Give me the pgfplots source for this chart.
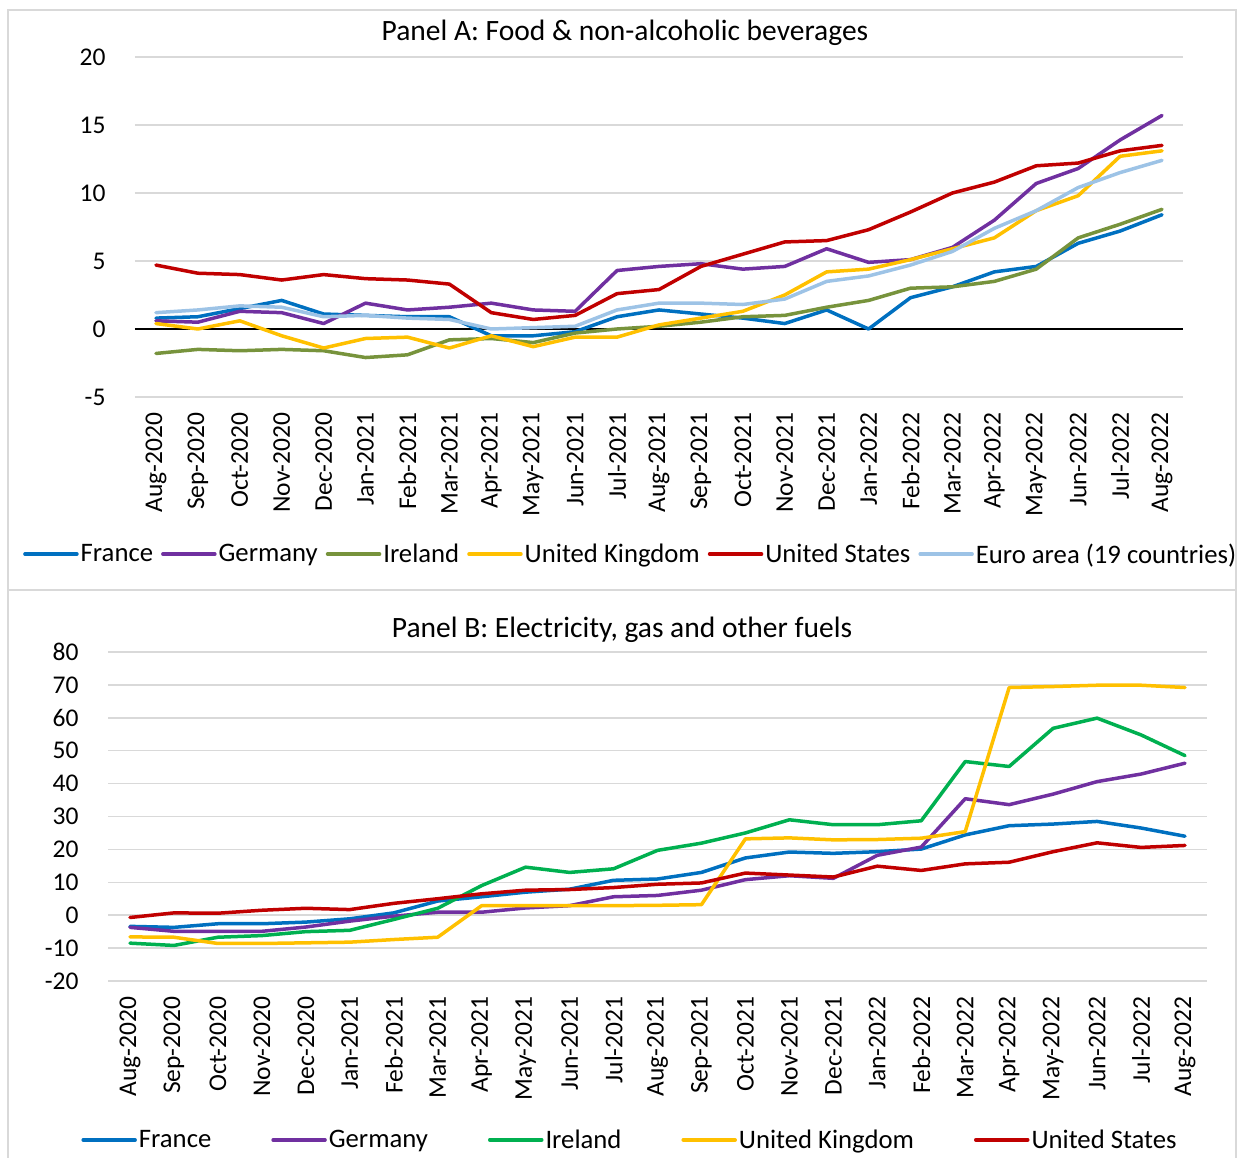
\documentclass[border=0pt]{standalone}
\usepackage{pgfplots}
\pgfplotsset{compat=1.18}
\usepackage{pgfplotstable}
\usepackage{fontspec}
\setmainfont{Carlito}

\definecolor{frblue}{RGB}{0,112,192}
\definecolor{depurple}{RGB}{112,48,160}
\definecolor{ieolive}{RGB}{119,147,60}
\definecolor{iegreen}{RGB}{0,176,80}
\definecolor{ukyellow}{RGB}{255,192,0}
\definecolor{usred}{RGB}{192,0,0}
\definecolor{eablue}{RGB}{157,195,230}
\definecolor{gridgray}{RGB}{217,217,217}

% Panel A: food & non-alcoholic beverages
\pgfplotstableread{
x fr de ie uk us ea
0 0.8 0.6 -1.8 0.4 4.7 1.2
1 0.9 0.5 -1.5 0.0 4.1 1.4
2 1.5 1.3 -1.6 0.6 4.0 1.7
3 2.1 1.2 -1.5 -0.5 3.6 1.6
4 1.1 0.4 -1.6 -1.4 4.0 0.9
5 1.0 1.9 -2.1 -0.7 3.7 1.0
6 0.9 1.4 -1.9 -0.6 3.6 0.8
7 0.9 1.6 -0.8 -1.4 3.3 0.7
8 -0.5 1.9 -0.7 -0.5 1.2 0.0
9 -0.5 1.4 -1.0 -1.3 0.7 0.1
10 -0.2 1.3 -0.3 -0.6 1.0 0.2
11 0.9 4.3 0.0 -0.6 2.6 1.4
12 1.4 4.6 0.2 0.3 2.9 1.9
13 1.1 4.8 0.5 0.8 4.6 1.9
14 0.8 4.4 0.9 1.3 5.5 1.8
15 0.4 4.6 1.0 2.5 6.4 2.2
16 1.4 5.9 1.6 4.2 6.5 3.5
17 0.0 4.9 2.1 4.4 7.3 3.9
18 2.3 5.1 3.0 5.1 8.6 4.7
19 3.1 6.0 3.1 5.9 10.0 5.7
20 4.2 8.0 3.5 6.7 10.8 7.4
21 4.6 10.7 4.4 8.7 12.0 8.7
22 6.3 11.8 6.7 9.8 12.2 10.4
23 7.2 13.9 7.7 12.7 13.1 11.5
24 8.4 15.7 8.8 13.1 13.5 12.4
}\foodtab

% Panel B: electricity, gas and other fuels
\pgfplotstableread{
x fr de ie uk us
0 -3.4 -3.7 -8.5 -6.6 -0.7
1 -3.7 -4.9 -9.2 -6.7 0.7
2 -2.6 -4.9 -6.7 -8.6 0.6
3 -2.6 -4.9 -6.2 -8.6 1.5
4 -2.1 -3.6 -5.0 -8.4 2.1
5 -1.1 -1.8 -4.6 -8.2 1.7
6 0.7 -0.3 -1.3 -7.4 3.6
7 4.3 0.9 2.1 -6.7 5.0
8 5.6 0.9 9.0 2.9 6.5
9 7.0 2.2 14.6 2.9 7.6
10 7.9 2.9 13.0 2.9 7.8
11 10.6 5.6 14.1 2.9 8.4
12 11.0 6.0 19.7 3.0 9.4
13 13.0 7.6 21.9 3.2 9.8
14 17.4 10.8 25.0 23.2 12.8
15 19.2 12.0 29.0 23.5 12.2
16 18.8 11.2 27.5 22.9 11.6
17 19.3 18.2 27.5 23.0 14.9
18 20.1 20.7 28.7 23.4 13.6
19 24.4 35.4 46.7 25.4 15.6
20 27.2 33.6 45.2 69.2 16.1
21 27.7 36.8 56.8 69.5 19.3
22 28.5 40.6 59.9 69.9 22.0
23 26.5 42.9 54.8 69.9 20.6
24 24.0 46.2 48.5 69.2 21.2
}\energytab

\pgfplotsset{
  panel/.style={
    scale only axis,
    xmin=-0.5, xmax=24.5,
    xtick={0,...,24},
    xticklabels={Aug-2020,Sep-2020,Oct-2020,Nov-2020,Dec-2020,Jan-2021,Feb-2021,Mar-2021,Apr-2021,May-2021,Jun-2021,Jul-2021,Aug-2021,Sep-2021,Oct-2021,Nov-2021,Dec-2021,Jan-2022,Feb-2022,Mar-2022,Apr-2022,May-2022,Jun-2022,Jul-2022,Aug-2022},
    xticklabel style={rotate=90, anchor=east},
    xticklabel shift=12pt,
    yticklabel style={xshift=-26pt},
    axis line style={draw=none},
    tick style={draw=none},
    ymajorgrids,
    grid style={gridgray, line width=1.5pt},
    /pgf/number format/assume math mode=true,
    tick label style={font=\fontsize{25.5}{30}\selectfont},
    legend style={draw=none, fill=none, legend columns=-1,
      font=\fontsize{26.7}{31}\selectfont,
      nodes={inner xsep=2pt}},
    legend image code/.code={\draw[#1, line width=3.5pt] (0pt,0pt) -- (52pt,0pt);},
    every axis plot/.append style={line width=3.5pt, line join=round, line cap=round, mark=none},
  },
}

\begin{document}
\begin{tikzpicture}[font=\fontsize{25.5}{30}\selectfont]
\useasboundingbox (0pt,0pt) rectangle (1243pt,1158pt);

% frames
\draw[gridgray, line width=1.5pt] (8pt,568pt) rectangle (1236pt,1148pt);
\draw[gridgray, line width=1.5pt] (8pt,-5pt) -- (8pt,568pt) -- (1236pt,568pt) -- (1236pt,-5pt);

\node[font=\fontsize{29.5}{34}\selectfont] at (625pt,1125pt) {Panel A: Food \& non-alcoholic beverages};
\node[font=\fontsize{29.5}{34}\selectfont] at (622pt,528pt) {Panel B: Electricity, gas and other fuels};

\begin{axis}[panel,
  at={(135pt,761pt)}, anchor=south west,
  width=1048pt, height=340pt,
  ymin=-5, ymax=20, ytick={-5,0,...,20},
  extra y ticks={0}, extra y tick labels={},
  extra y tick style={grid style={black, line width=1.8pt}},
  legend style={at={(0.473,-0.462)}, anchor=center,
    /tikz/every even column/.append style={column sep=6pt}},
]
\addplot[frblue] table[x=x, y=fr] {\foodtab};
\addlegendentry{France}
\addplot[depurple] table[x=x, y=de] {\foodtab};
\addlegendentry{Germany}
\addplot[ieolive] table[x=x, y=ie] {\foodtab};
\addlegendentry{Ireland}
\addplot[ukyellow] table[x=x, y=uk] {\foodtab};
\addlegendentry{United Kingdom}
\addplot[usred] table[x=x, y=us] {\foodtab};
\addlegendentry{United States}
\addplot[eablue] table[x=x, y=ea] {\foodtab};
\addlegendentry{Euro area (19 countries)}
\end{axis}

\begin{axis}[panel,
  at={(108pt,177pt)}, anchor=south west,
  width=1099pt, height=329pt,
  ymin=-20, ymax=80, ytick={-20,-10,...,80},
  legend style={at={(0.475,-0.483)}, anchor=center,
    /tikz/every even column/.append style={column sep=58pt}},
]
\addplot[frblue] table[x=x, y=fr] {\energytab};
\addlegendentry{France}
\addplot[depurple] table[x=x, y=de] {\energytab};
\addlegendentry{Germany}
\addplot[iegreen] table[x=x, y=ie] {\energytab};
\addlegendentry{Ireland}
\addplot[ukyellow] table[x=x, y=uk] {\energytab};
\addlegendentry{United Kingdom}
\addplot[usred] table[x=x, y=us] {\energytab};
\addlegendentry{United States}
\end{axis}
\end{tikzpicture}
\end{document}
